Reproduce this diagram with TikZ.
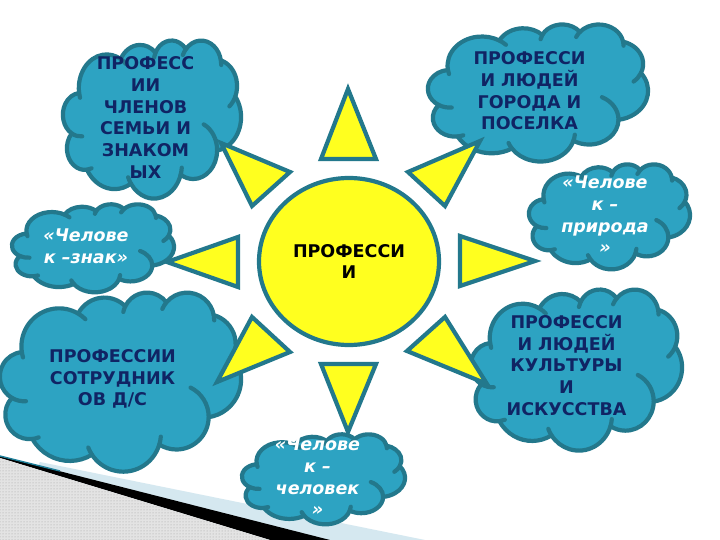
\documentclass[tikz,border=0pt]{standalone}
\usepackage{fontspec}
\setmainfont{DejaVu Sans}
\usetikzlibrary{patterns,shapes.geometric}
\definecolor{cloudfill}{HTML}{2DA3C2}
\definecolor{cloudline}{HTML}{23788C}
\definecolor{sunfill}{HTML}{FFFF1F}
\definecolor{navy}{HTML}{102464}
\definecolor{paleblue}{HTML}{D5E8F0}
\definecolor{stripeteal}{HTML}{1F7F99}
\tikzset{
  cloudbody/.style={fill=cloudfill, draw=cloudline, line width=4.2pt, line join=round},
  cloudinner/.style={draw=cloudline, line width=4.2pt, line cap=round},
  ray/.style={fill=sunfill, draw=cloudline, line width=4.2pt, line join=miter},
  sunbody/.style={ellipse, fill=sunfill, draw=cloudline, line width=4.2pt,
    minimum width=180pt, minimum height=167pt, inner sep=0pt, align=center,
    font=\fontsize{17.5}{21.7}\selectfont\bfseries, text=black},
  navytext/.style={text=navy, font=\fontsize{17.5}{21.7}\selectfont\bfseries, align=center, inner sep=0pt},
  whitetext/.style={text=white, font=\fontsize{17.5}{21.7}\selectfont\bfseries\itshape, align=center, inner sep=0pt}
}
\newcommand\PPTcloud[4]{%
  \begin{scope}[shift={(#1,#2)}, xscale=#3/43.2, yscale=#4/43.2]
    \path[cloudbody] (3.900,14.370)
      arc[start angle=172.26, end angle=300.36, x radius=6.753, y radius=9.190]
      arc[start angle=-152.02, end angle=-45.47, x radius=5.333, y radius=7.267]
      arc[start angle=-153.48, end angle=-37.26, x radius=4.365, y radius=5.945]
      arc[start angle=-139.71, end angle=-10.21, x radius=4.857, y radius=6.595]
      arc[start angle=-74.78, end angle=23.21, x radius=5.333, y radius=7.273]
      arc[start angle=-37.51, end angle=81.86, x radius=6.775, y radius=9.220]
      arc[start angle=0.46, end angle=121.97, x radius=5.785, y radius=7.867]
      arc[start angle=16.85, end angle=146.22, x radius=6.752, y radius=9.215]
      arc[start angle=59.03, end angle=150.18, x radius=7.720, y radius=10.543]
      arc[start angle=83.30, end angle=223.09, x radius=4.360, y radius=5.918]
      arc[start angle=120.34, end angle=264.11, x radius=4.345, y radius=5.945]
      -- cycle;
    \path[cloudinner] (4.654,26.346) arc[start angle=85.54, end angle=120.34, x radius=4.345, y radius=5.945];
    \path[cloudinner] (6.922,35.089) arc[start angle=68.24, end angle=83.30, x radius=4.360, y radius=5.918];
    \path[cloudinner] (16.485,39.269) arc[start angle=146.22, end angle=158.47, x radius=6.752, y radius=9.215];
    \path[cloudinner] (28.826,34.905) arc[start angle=4.74, end angle=16.85, x radius=6.752, y radius=9.215];
    \path[cloudinner] (34.156,23.070) arc[start angle=-64.02, end angle=0.46, x radius=5.785, y radius=7.867];
    \path[cloudinner] (41.823,15.464) arc[start angle=23.21, end angle=49.65, x radius=5.333, y radius=7.273];
    \path[cloudinner] (38.322,5.580) arc[start angle=-10.21, end angle=0.82, x radius=4.857, y radius=6.595];
    \path[cloudinner] (29.095,4.097) arc[start angle=-156.29, end angle=-139.71, x radius=4.857, y radius=6.595];
    \path[cloudinner] (22.097,4.821) arc[start angle=-167.72, end angle=-153.48, x radius=4.365, y radius=5.945];
    \path[cloudinner] (14.006,5.203) arc[start angle=300.36, end angle=314.29, x radius=6.753, y radius=9.190];
    \path[cloudinner] (4.127,15.789) arc[start angle=163.2, end angle=172.26, x radius=6.753, y radius=9.190];
  \end{scope}}
\begin{document}
\begin{tikzpicture}[x=1pt,y=-1pt]
\useasboundingbox (0,0) rectangle (720,540);
\fill[white] (0,0) rectangle (720,540);
% bottom-left decoration
\fill[paleblue] (40,462) -- (425,540) -- (0,540) -- cycle;
\fill[black] (0,456) -- (330,540) -- (270,540) -- (0,458) -- cycle;
\fill[gray!22] (0,458) -- (270,540) -- (0,540) -- cycle;
\fill[pattern=dots, pattern color=gray!75] (0,458) -- (270,540) -- (0,540) -- cycle;
\draw[stripeteal, line width=1.4pt] (0,456) -- (60,471);
% clouds
\PPTcloud{63}{40}{178}{158}
\PPTcloud{428}{24}{220}{137}
\PPTcloud{529}{164}{161}{105}
\PPTcloud{471}{289}{211}{161}
\PPTcloud{242}{434}{163}{90}
\PPTcloud{12}{204}{162}{88}
\PPTcloud{0}{292}{241}{179}
% rays
\draw[ray] (348,89) -- (376,159) -- (321,159) -- cycle;
\draw[ray] (480,141) -- (445,206) -- (408,172) -- cycle;
\draw[ray] (535,261) -- (460,286) -- (460,236) -- cycle;
\draw[ray] (487,384) -- (407,351) -- (445,317) -- cycle;
\draw[ray] (348,432) -- (321,364) -- (376,364) -- cycle;
\draw[ray] (217,382) -- (252,317) -- (290,352) -- cycle;
\draw[ray] (167,262) -- (238,237) -- (238,287) -- cycle;
\draw[ray] (221,143) -- (290,172) -- (252,206) -- cycle;
% sun
\node[sunbody] (sun) at (349,261.5) {ПРОФЕССИ\\И};
% texts
\node[navytext] (family) at (145.5,117.5) {ПРОФЕСС\\ИИ\\ЧЛЕНОВ\\СЕМЬИ И\\ЗНАКОМ\\ЫХ};
\node[navytext] (town) at (529.5,91) {ПРОФЕССИ\\И ЛЮДЕЙ\\ГОРОДА И\\ПОСЕЛКА};
\node[whitetext] (nature) at (605,215) {«Челове\\к –\\природа\\»};
\node[navytext] (culture) at (566.5,365.5) {ПРОФЕССИ\\И ЛЮДЕЙ\\КУЛЬТУРЫ\\И\\ИСКУССТВА};
\node[whitetext] (human) at (317.5,477) {«Челове\\к –\\человек\\»};
\node[whitetext] (sign) at (86,246) {«Челове\\к –знак»};
\node[navytext] (staff) at (112.5,379) {ПРОФЕССИИ\\СОТРУДНИК\\ОВ Д/С};
\end{tikzpicture}
\end{document}
